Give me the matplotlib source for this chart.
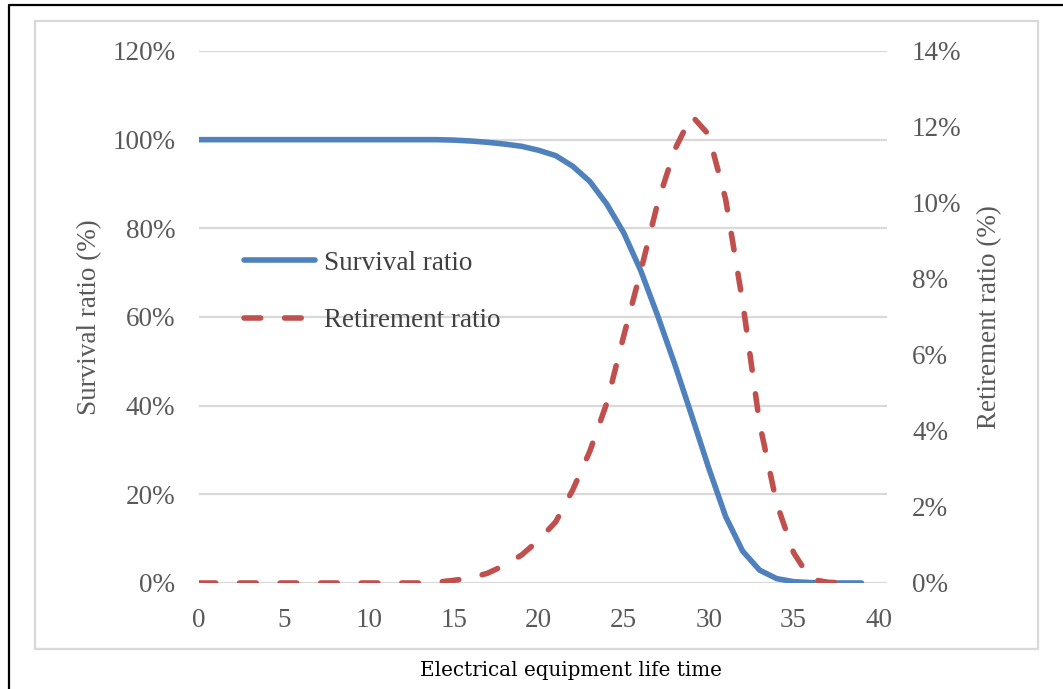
"""Survival ratio vs retirement ratio of electrical equipment over life time."""

import matplotlib
matplotlib.use("Agg")
import matplotlib.pyplot as plt
from matplotlib.lines import Line2D
from matplotlib.ticker import FuncFormatter

# ---- data ----------------------------------------------------------------
years_survival = list(range(0, 40))
survival_pct = [100, 100, 100, 100, 100, 100, 100, 100, 100, 100,
                100, 100, 100, 100, 100, 99.9, 99.7, 99.4, 99.0, 98.5,
                97.6, 96.4, 94.0, 90.6, 85.5, 79.0, 70.5, 60.3, 49.4, 37.8,
                26.0, 15.0, 7.2, 2.9, 1.0, 0.3, 0.1, 0, 0, 0]

years_retire = list(range(0, 39))
retirement_pct = [0, 0, 0, 0, 0, 0, 0, 0, 0, 0,
                  0, 0, 0, 0, 0.02, 0.07, 0.13, 0.26, 0.47, 0.74,
                  1.13, 1.61, 2.45, 3.46, 4.73, 6.5, 8.2, 10.0, 11.4, 12.3,
                  11.8, 10.1, 7.4, 4.2, 2.1, 0.8, 0.1, 0.02, 0]

left_ticks = [0, 20, 40, 60, 80, 100, 120]
right_ticks = [0, 2, 4, 6, 8, 10, 12, 14]
x_ticks = [0, 5, 10, 15, 20, 25, 30, 35, 40]

# ---- style -------------------------------------------------------------------
W, H = 1063, 689
BLUE = "#4F81BD"
RED = "#C0504D"
GRID = "#D9D9D9"
TXT = "#595959"
SERIF = ["Liberation Serif", "DejaVu Serif"]
FS = 19.5
LW = 4.0

plt.rcParams["font.family"] = SERIF

fig = plt.figure(figsize=(W / 100, H / 100), dpi=100)
ax = fig.add_axes([199 / W, 1 - 583 / H, 688 / W, 532 / H])
ax2 = ax.twinx()

l1, = ax.plot(years_survival, survival_pct, color=BLUE, lw=LW,
              solid_capstyle="round", solid_joinstyle="round",
              label="Survival ratio", zorder=3)
l2, = ax2.plot(years_retire, retirement_pct, color=RED, lw=LW,
               dashes=(3.0, 4.3), dash_capstyle="round", dash_joinstyle="round",
               label="Retirement ratio", zorder=3)

ax.set_xlim(0, 40.5)
ax.set_ylim(0, 120)
ax2.set_ylim(0, 14)
ax.set_xticks(x_ticks)
ax.set_yticks(left_ticks)
ax2.set_yticks(right_ticks)
pct = FuncFormatter(lambda v, _: f"{v:.0f}%")
ax.yaxis.set_major_formatter(pct)
ax2.yaxis.set_major_formatter(pct)

for a in (ax, ax2):
    for s in a.spines.values():
        s.set_visible(False)
ax.grid(axis="y", color=GRID, lw=1.6, zorder=0)
ax.set_axisbelow(True)
ax.tick_params(axis="both", length=0, labelsize=FS, labelcolor=TXT)
ax.tick_params(axis="y", pad=17)
ax.tick_params(axis="x", pad=18)
ax2.tick_params(axis="y", length=0, labelsize=FS, labelcolor=TXT, pad=18)

ax.set_ylabel("Survival ratio (%)", fontsize=FS, color=TXT, labelpad=7)
ax2.set_ylabel("Retirement ratio (%)", fontsize=FS, color=TXT, labelpad=11)

leg = ax2.legend(handles=[l1, l2], loc="center left",
                 bbox_to_anchor=(0.065, 0.547), frameon=False, fontsize=FS,
                 handlelength=2.65, handletextpad=0.3, labelspacing=1.2,
                 borderpad=0, borderaxespad=0)
for t in leg.get_texts():
    t.set_color("#404040")

fig.text(571 / W, 1 - 671 / H, "Electrical equipment life time",
         ha="center", va="center", fontsize=14.3, color="black",
         family=["DejaVu Serif"])

# outer black frame (left + top) and inner light-gray chart border
fig.add_artist(Line2D([9 / W, 9 / W, 1.0], [0.0, 1 - 5 / H, 1 - 5 / H],
                      transform=fig.transFigure, color="black", lw=1.6))
fig.add_artist(Line2D([35 / W, 1038 / W, 1038 / W, 35 / W, 35 / W],
                      [1 - 21 / H, 1 - 21 / H, 1 - 649 / H, 1 - 649 / H, 1 - 21 / H],
                      transform=fig.transFigure, color=GRID, lw=1.6))

fig.savefig("out.png", dpi=100)
